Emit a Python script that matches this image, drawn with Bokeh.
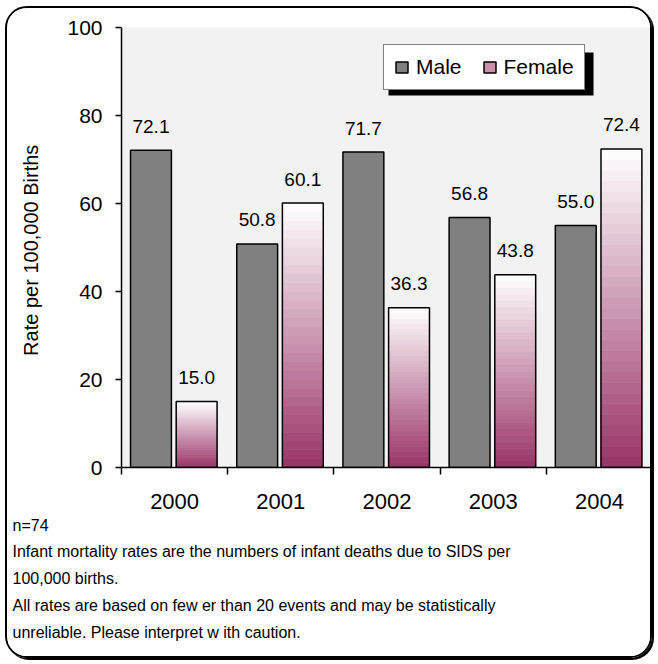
import numpy as np
from bokeh.plotting import figure
from bokeh.models import (Range1d, FixedTicker, LinearAxis, Legend, LegendItem,
                          Title, BoxAnnotation, ColumnDataSource)
from bokeh.core.properties import value
from bokeh.embed import file_html
from bokeh.resources import INLINE

# ---- data ----
years = ["2000", "2001", "2002", "2003", "2004"]
male = [72.1, 50.8, 71.7, 56.8, 55.0]
female = [15.0, 60.1, 36.3, 43.8, 72.4]
y_ticks = [0, 20, 40, 60, 80, 100]
y_label = "Rate per 100,000  Births"
notes = [
    "n=74",
    "Infant mortality rates are the numbers of infant deaths due to SIDS per",
    "100,000 births.",
    "All rates are based on few er than 20 events and may be statistically",
    "unreliable.  Please interpret w ith caution.",
]

FONT = "Liberation Sans"
W, H = 647, 652

p = figure(width=W, height=H, output_backend="svg", toolbar_location=None,
           x_range=Range1d(0, len(years)), y_range=Range1d(0, 100),
           x_axis_location=None, y_axis_location=None,
           min_border_left=114, min_border_right=2, min_border_top=19,
           min_border_bottom=193)
p.styles = {"border": "2px solid #000", "border-radius": "22px",
            "box-shadow": "2px 2px 0 #000", "overflow": "hidden",
            "margin-left": "5px", "margin-top": "6px"}
p.background_fill_color = "#f2f2f2"
p.border_fill_color = "white"
p.outline_line_color = None
p.grid.visible = False

# ---- bars ----
idx = np.arange(len(years))
m_left, m_right = idx + 0.085, idx + 0.47
f_left, f_right = idx + 0.515, idx + 0.90

male_src = ColumnDataSource(dict(left=m_left, right=m_right, top=male,
                                 bottom=[0] * len(male)))
r_male = p.quad(left="left", right="right", top="top", bottom="bottom",
                source=male_src, fill_color="#808080", line_color="black",
                line_width=1.5)

# female gradient: slices of each bar, dark at the bottom, white at the top
N = 30
bottom_rgb = np.array([153, 51, 102])
top_rgb = np.array([255, 255, 255])
sl_l, sl_r, sl_b, sl_t, sl_c = [], [], [], [], []
for i, v in enumerate(female):
    for k in range(N):
        frac = (k + 0.5) / N
        rgb = bottom_rgb + (top_rgb - bottom_rgb) * frac
        sl_l.append(f_left[i]); sl_r.append(f_right[i])
        sl_b.append(v * k / N); sl_t.append(v * (k + 1) / N)
        sl_c.append("#%02x%02x%02x" % tuple(int(round(c)) for c in rgb))
p.quad(left=sl_l, right=sl_r, bottom=sl_b, top=sl_t, fill_color=sl_c,
       line_color=sl_c, line_width=0.8)
r_fem_leg = p.quad(left=[np.nan], right=[np.nan], bottom=[np.nan], top=[np.nan],
                   fill_color="#c98fab", line_color="black", line_width=1.5)
p.quad(left=f_left, right=f_right, bottom=[0] * len(female), top=female,
       fill_color=None, line_color="black", line_width=1.5)

# ---- value labels ----
p.text(x=(m_left + m_right) / 2, y=male, text=["%.1f" % v for v in male],
       text_align="center", text_baseline="middle", y_offset=-24,
       text_font=value(FONT), text_font_size="19px", text_color="black")
p.text(x=(f_left + f_right) / 2, y=female, text=["%.1f" % v for v in female],
       text_align="center", text_baseline="middle", y_offset=-24,
       text_font=value(FONT), text_font_size="19px", text_color="black")

# ---- axes ----
yax = LinearAxis(ticker=FixedTicker(ticks=y_ticks), axis_label=y_label)
yax.axis_line_color = "black"
yax.axis_line_width = 1.5
yax.major_tick_out = 6
yax.major_tick_in = 0
yax.minor_tick_out = 0
yax.minor_tick_in = 0
yax.major_tick_line_color = "black"
yax.major_tick_line_width = 1.5
yax.major_label_standoff = 13
yax.major_label_text_font = FONT
yax.major_label_text_font_size = "21px"
yax.major_label_text_color = "black"
yax.axis_label_text_font = FONT
yax.axis_label_text_font_size = "20px"
yax.axis_label_text_font_style = "normal"
yax.axis_label_text_color = "black"
yax.axis_label_standoff = 22
p.add_layout(yax, "left")

xa = LinearAxis(ticker=FixedTicker(ticks=list(range(len(years) + 1))))
xa.major_label_overrides = {i: "" for i in range(len(years) + 1)}
xa.axis_line_color = "black"
xa.axis_line_width = 1.5
xa.major_tick_out = 7
xa.major_tick_in = 0
xa.major_tick_line_color = "black"
xa.major_tick_line_width = 1.5
xa.minor_tick_out = 0
xa.minor_tick_in = 0
xa.major_label_standoff = 0
p.add_layout(xa, "below")

centers = [i + 0.5 for i in range(len(years))]
xb = LinearAxis(ticker=FixedTicker(ticks=centers))
xb.major_label_overrides = {c: y for c, y in zip(centers, years)}
xb.axis_line_color = None
xb.major_tick_line_color = None
xb.minor_tick_line_color = None
xb.major_label_standoff = 13
xb.major_label_text_font = FONT
xb.major_label_text_font_size = "22px"
xb.major_label_text_color = "black"
p.add_layout(xb, "below")

# ---- legend with shadow ----
shadow = BoxAnnotation(left=267, right=472, top=415, bottom=372,
                       left_units="screen", right_units="screen",
                       top_units="screen", bottom_units="screen",
                       fill_color="black", fill_alpha=1.0, line_color=None)
p.add_layout(shadow)
legend = Legend(items=[LegendItem(label="Male", renderers=[r_male]),
                       LegendItem(label="Female", renderers=[r_fem_leg])],
                orientation="horizontal", location=(262, 377))
legend.label_text_font = FONT
legend.label_text_font_size = "21px"
legend.label_text_color = "black"
legend.glyph_width = 15
legend.glyph_height = 14
legend.label_standoff = 7
legend.spacing = 20
legend.padding = 10
legend.border_line_color = "black"
legend.border_line_width = 1.5
legend.background_fill_color = "white"
legend.background_fill_alpha = 1.0
p.add_layout(legend, "center")

# ---- footnotes ----
for j, t in enumerate(notes):
    p.add_layout(Title(text=t, align="left", offset=-109,
                       text_font=FONT, text_font_size="16px",
                       text_font_style="normal", text_color="black",
                       standoff=6 if j == 0 else 8), "below")

open("out.html", "w").write(file_html(p, INLINE))
